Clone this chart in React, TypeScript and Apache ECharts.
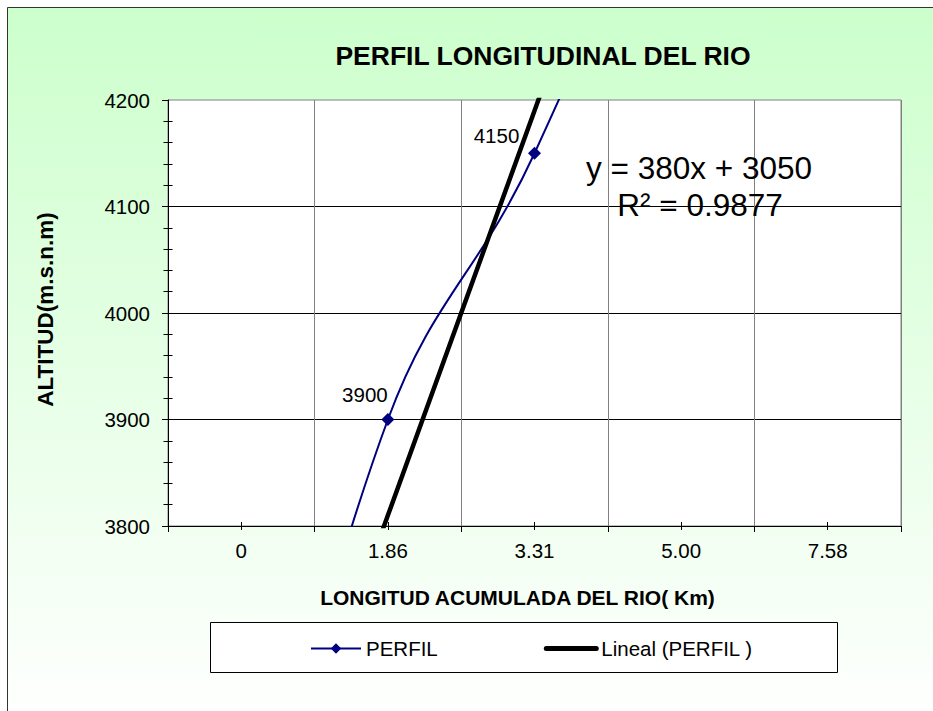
import React, { useEffect, useRef } from "react";
import * as echarts from "echarts";

const categories = ["0", "1.86", "3.31", "5.00", "7.58"];
const perfilValues = [3400, 3900, 4150, 4500, 5000];
const trendValues = [3430, 3810, 4190, 4570, 4950];
const yMin = 3800;
const yMax = 4200;
const yInterval = 100;
const titleText = "PERFIL LONGITUDINAL DEL RIO";
const xName = "LONGITUD ACUMULADA DEL RIO( Km)";
const yName = "ALTITUD(m.s.n.m)";
const equationLines = ["y = 380x + 3050", "R² = 0.9877"];
const seriesNames = ["PERFIL", "Lineal (PERFIL )"];
const labelledIndices = [1, 2];

const FONT = '"Liberation Sans", Arial, sans-serif';

export default function App() {
  const ref = useRef<HTMLDivElement>(null);

  useEffect(() => {
    if (!ref.current) return;
    const chart = echarts.init(ref.current, undefined, { renderer: "svg" });

    const labelOffsets: Record<number, number[]> = {
      1: [-23, -25.5],
      2: [-38, -17.5],
    };
    const perfilData = perfilValues.map((v, i) =>
      labelledIndices.includes(i)
        ? {
            value: v,
            label: {
              show: true,
              position: "inside",
              offset: labelOffsets[i],
              fontSize: 20.5,
              fontFamily: FONT,
              color: "#000",
            },
          }
        : v
    );

    const option: any = {
      animation: false,
      backgroundColor: "#ffffff",
      textStyle: { fontFamily: FONT },
      grid: {
        left: 168,
        top: 100,
        width: 733,
        height: 426,
        show: true,
        backgroundColor: "#ffffff",
        borderColor: "#808080",
        borderWidth: 1,
        containLabel: false,
        outerBoundsMode: "none",
      },
      legend: {
        data: [
          { name: seriesNames[0] },
          {
            name: seriesNames[1],
            itemStyle: { opacity: 0 },
            lineStyle: { width: 5, cap: "round", color: "#000" },
          },
        ],
        left: 310,
        top: 638,
        padding: 0,
        itemWidth: 50,
        itemHeight: 13,
        itemGap: 106,
        selectedMode: false,
        textStyle: { fontSize: 20.5, color: "#000", fontFamily: FONT },
      },
      xAxis: [
        {
          type: "category",
          data: categories,
          boundaryGap: true,
          position: "bottom",
          axisLine: { show: true, lineStyle: { color: "#000", width: 1 } },
          axisTick: {
            show: true,
            alignWithLabel: false,
            inside: false,
            length: 6,
            lineStyle: { color: "#000" },
          },
          axisLabel: {
            fontSize: 20.5,
            color: "#000",
            margin: 14,
            fontFamily: FONT,
          },
          splitLine: {
            show: true,
            lineStyle: { color: "#808080", width: 1 },
          },
        },
        {
          type: "category",
          data: categories,
          boundaryGap: true,
          position: "bottom",
          offset: 4,
          axisLine: { show: false },
          axisTick: {
            show: true,
            alignWithLabel: true,
            inside: true,
            length: 8,
            lineStyle: { color: "#000" },
          },
          axisLabel: { show: false },
          splitLine: { show: false },
        },
      ],
      yAxis: [
        {
          type: "value",
          min: yMin,
          max: yMax,
          interval: yInterval,
          axisLine: { show: true, lineStyle: { color: "#000", width: 1 } },
          axisTick: { show: true, length: 6, lineStyle: { color: "#000" } },
          axisLabel: {
            fontSize: 20.5,
            color: "#000",
            margin: 18,
            fontFamily: FONT,
            formatter: (v: number) => String(v),
          },
          splitLine: {
            show: true,
            showMaxLine: false,
            lineStyle: { color: "#000", width: 1 },
          },
        },
        {
          type: "value",
          min: yMin,
          max: yMax,
          interval: yInterval,
          position: "left",
          offset: 4.5,
          axisLine: { show: false },
          axisTick: {
            show: true,
            inside: true,
            length: 9,
            lineStyle: { color: "#000", opacity: 0 },
          },
          axisLabel: { show: false },
          splitLine: { show: false },
          minorTick: {
            show: true,
            splitNumber: 5,
            length: 9,
            lineStyle: { color: "#000", opacity: 1, width: 1 },
          },
        },
      ],
      series: [
        {
          type: "line",
          name: seriesNames[0],
          data: perfilData,
          smooth: 0.43,
          symbol: "diamond",
          symbolSize: 13,
          clip: true,
          lineStyle: { color: "#000080", width: 2 },
          itemStyle: { color: "#000080" },
          z: 2,
        },
        {
          type: "line",
          name: seriesNames[1],
          data: trendValues,
          symbol: "none",
          clip: true,
          lineStyle: { color: "#000", width: 4.5, cap: "round" },
          itemStyle: { color: "#000" },
          z: 3,
        },
      ],
      graphic: [
        {
          type: "rect",
          z: -10,
          shape: { x: 7.5, y: 7.5, width: 940, height: 720 },
          style: {
            fill: new echarts.graphic.LinearGradient(0, 0, 0, 1, [
              { offset: 0, color: "#CCFFCC" },
              { offset: 1, color: "#FFFFFF" },
            ]),
            stroke: "#333333",
            lineWidth: 1,
          },
        },
        {
          type: "rect",
          z: -5,
          shape: { x: 210.5, y: 622.5, width: 627, height: 50 },
          style: { fill: "#ffffff", stroke: "#000000", lineWidth: 1 },
        },
        {
          type: "text",
          z: 10,
          x: 543,
          y: 55.5,
          style: {
            text: titleText,
            fontSize: 26.5,
            fontWeight: "bold",
            fontFamily: FONT,
            fill: "#000",
            align: "center",
            verticalAlign: "middle",
          },
        },
        {
          type: "text",
          z: 10,
          x: 517.5,
          y: 597,
          style: {
            text: xName,
            fontSize: 21,
            fontWeight: "bold",
            fontFamily: FONT,
            fill: "#000",
            align: "center",
            verticalAlign: "middle",
          },
        },
        {
          type: "text",
          z: 10,
          x: 45,
          y: 309.5,
          rotation: Math.PI / 2,
          style: {
            text: yName,
            fontSize: 22.5,
            fontWeight: "bold",
            fontFamily: FONT,
            fill: "#000",
            align: "center",
            verticalAlign: "middle",
          },
        },
        {
          type: "text",
          z: 10,
          x: 699,
          y: 167.5,
          style: {
            text: equationLines[0],
            fontSize: 31.5,
            fontFamily: FONT,
            fill: "#000",
            align: "center",
            verticalAlign: "middle",
          },
        },
        {
          type: "text",
          z: 10,
          x: 700,
          y: 204.5,
          style: {
            text: equationLines[1],
            fontSize: 31.5,
            fontFamily: FONT,
            fill: "#000",
            align: "center",
            verticalAlign: "middle",
          },
        },
      ],
    };

    chart.setOption(option);
    return () => chart.dispose();
  }, []);

  return (
    <div
      ref={ref}
      style={{ position: "fixed", left: 0, top: 0, width: 933, height: 711 }}
    />
  );
}
